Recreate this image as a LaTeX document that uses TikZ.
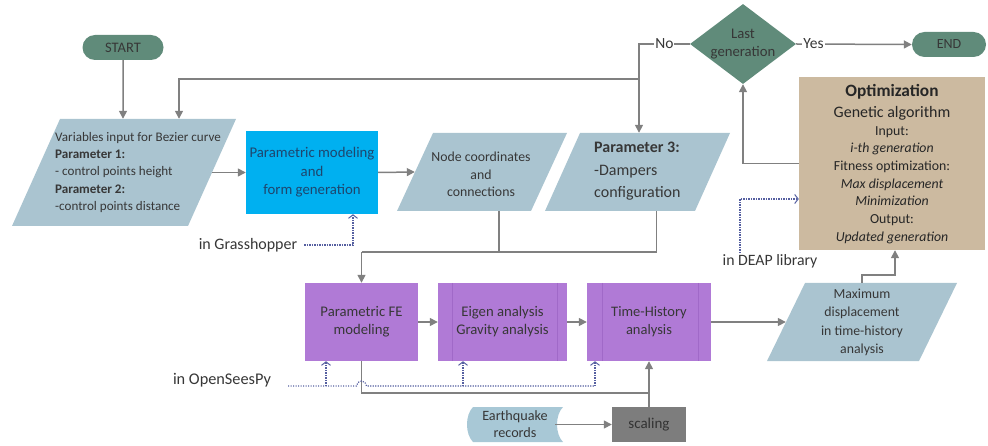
\documentclass[tikz,border=0pt]{standalone}
\usepackage{fontspec}
\setmainfont{Carlito}
\usetikzlibrary{arrows.meta,shapes.geometric,shapes.misc}
\definecolor{lgray}{RGB}{128,128,128}
\definecolor{teal}{RGB}{96,139,122}
\definecolor{parab}{RGB}{170,196,208}
\definecolor{cyanbox}{RGB}{0,176,240}
\definecolor{purp}{RGB}{176,122,214}
\definecolor{purpline}{RGB}{160,105,200}
\definecolor{tan}{RGB}{204,186,160}
\definecolor{scg}{RGB}{125,125,125}
\definecolor{dotc}{RGB}{85,95,160}
\definecolor{tcol}{RGB}{55,55,55}
\definecolor{bluetxt}{RGB}{30,70,110}
\definecolor{eqc}{RGB}{168,200,214}
\tikzset{
  flow/.style={draw=lgray, line width=1.5pt, -{Triangle[length=8pt,width=8pt]}},
  plain/.style={draw=lgray, line width=1.5pt},
  dotline/.style={draw=dotc, line width=1.2pt, dash pattern=on 1.2pt off 1.3pt},
  dotarrow/.style={dotline, -{Straight Barb[length=3.5pt,width=9pt,line width=1pt]}},
  para/.style={inner sep=0pt, path picture={\fill[parab] ([xshift=#1]path picture bounding box.north west) -- (path picture bounding box.north east) -- ([xshift=-#1]path picture bounding box.south east) -- (path picture bounding box.south west) -- cycle;}},
  term/.style={rounded rectangle, fill=teal, inner sep=0pt, text=tcol, font=\fontsize{14.5}{17}\selectfont},
  box/.style={rectangle, inner sep=0pt, align=center},
  lab/.style={fill=white, inner sep=1pt, text=tcol, font=\fontsize{15.5}{18}\selectfont},
  note/.style={text=tcol, inner sep=1pt, font=\fontsize{16}{18}\selectfont},
}
\begin{document}
\begin{tikzpicture}[x=1pt,y=-1pt]
\useasboundingbox (0,0) rectangle (988,446);
% terminals
\node[term, minimum width=81pt, minimum height=25pt] (start) at (123,47.5) {START};
\node[term, minimum width=74pt, minimum height=25pt, font=\fontsize{14}{16}\selectfont] (end) at (949,44.5) {END};
% decision
\node[diamond, fill=teal, minimum width=106pt, minimum height=80pt, inner sep=0pt] (dec) at (743,44) {};
\node[align=center, text=tcol, inner sep=0pt, font=\fontsize{14.7}{18}\selectfont] (dect) at (743,44) {Last\\generation};
% input parallelogram
\node[para=48pt, minimum width=224pt, minimum height=107pt] (var) at (124,172.5) {};
\node[anchor=west, align=left, inner sep=0pt, text=tcol, font=\fontsize{13.1}{17.3}\selectfont] (vart) at (55,172.5)
  {Variables input for Bezier curve\\\textbf{Parameter 1:}\\- control points height\\\textbf{Parameter 2:}\\-control points distance};
% parametric modeling
\node[box, fill=cyanbox, minimum width=132pt, minimum height=83pt, text=bluetxt, font=\fontsize{14.8}{18.5}\selectfont] (pm) at (312,172.5)
  {Parametric modeling\\and\\form generation};
% node coordinates
\node[para=36pt, minimum width=170pt, minimum height=78pt] (nc) at (482,172) {};
\node[align=center, inner sep=0pt, text=tcol, font=\fontsize{13.8}{17.5}\selectfont] (nct) at (481,174.5) {Node coordinates\\and\\connections};
% parameter 3
\node[para=35pt, minimum width=185pt, minimum height=78pt] (p3) at (637.5,172) {};
\node[anchor=west, align=left, inner sep=0pt, text=tcol, font=\fontsize{16}{22.5}\selectfont] (p3t) at (594,171.5) {\textbf{Parameter 3:}\\-Dampers\\configuration};
% optimization
\node[box, fill=tan, minimum width=186pt, minimum height=173pt] (opt) at (892,163.5) {};
\node[inner sep=0pt, text=black!85, font=\fontsize{17.3}{19}\selectfont\bfseries] (optA) at (892,92) {Optimization};
\node[inner sep=0pt, text=black!85, font=\fontsize{16}{18}\selectfont] (optB) at (892,113) {Genetic algorithm};
\node[align=center, inner sep=0pt, text=black!85, font=\fontsize{13.8}{17.67}\selectfont] (optC) at (892,185)
  {Input:\\\textit{i-th generation}\\Fitness optimization:\\\textit{Max displacement}\\\textit{Minimization}\\Output:\\\textit{Updated generation}};
% FE boxes
\node[box, fill=purp, minimum width=113pt, minimum height=78pt, text=tcol, font=\fontsize{14.7}{18}\selectfont] (fe) at (361.5,322) {Parametric FE\\modeling};
\node[box, fill=purp, minimum width=129pt, minimum height=78pt, text=tcol, font=\fontsize{14.7}{18}\selectfont] (eig) at (502.5,322) {Eigen analysis\\Gravity analysis};
\node[box, fill=purp, minimum width=124pt, minimum height=78pt, text=tcol, font=\fontsize{14.5}{18}\selectfont] (th) at (649,322) {Time-History\\analysis};
\draw[purpline, line width=0.6pt] ([xshift=14pt]eig.north west) -- ([xshift=14pt]eig.south west)
  ([xshift=-10pt]eig.north east) -- ([xshift=-10pt]eig.south east)
  ([xshift=15pt]th.north west) -- ([xshift=15pt]th.south west)
  ([xshift=-13pt]th.north east) -- ([xshift=-13pt]th.south east);
% max displacement
\node[para=38pt, minimum width=190pt, minimum height=78pt] (md) at (862,322) {};
\node[align=center, inner sep=0pt, text=tcol, font=\fontsize{13.8}{18.3}\selectfont] (mdt) at (862,322.5) {Maximum\\displacement\\in time-history\\analysis};
% earthquake records (stored data)
\fill[eqc] (473,407) -- (563,407) .. controls (555,415) and (555,434) .. (563,442) -- (473,442) .. controls (465,434) and (465,415) .. (473,407) -- cycle;
\node[align=center, inner sep=0pt, minimum width=90pt, minimum height=35pt, text=tcol, font=\fontsize{14.2}{17}\selectfont] (eq) at (515,424.5) {Earthquake\\records};
% scaling
\node[box, fill=scg, minimum width=74pt, minimum height=35pt, text=black!80, font=\fontsize{15}{17}\selectfont] (sc) at (649,424.5) {scaling};
% notes
\node[note] (gh) at (248,245) {in Grasshopper};
\node[note, font=\fontsize{15.8}{18}\selectfont] (deap) at (770,261) {in DEAP library};
\node[note, font=\fontsize{16.3}{18}\selectfont] (os) at (222,380) {in OpenSeesPy};
% connectors
\coordinate (jn) at (639,44);
\coordinate (jb) at (639,79);
\coordinate (fb) at (179,79);
\draw[flow] (start) -- (start |- var.north);
\draw[plain] (dec.west) -- node[lab]{No} (jn) -- (jb);
\draw[flow] (jb) -- (jb |- p3.north);
\draw[flow] (jb) -- (fb) -- (fb |- var.north);
\draw[flow] (dec.east) -- node[lab, pos=0.15]{Yes} (end.west);
\draw[flow] (opt.west) -- (dec.south |- opt.west) -- (dec.south);
\draw[flow] ([xshift=-24pt]var.east) -- (pm.west);
\draw[flow] (pm.east) -- ([xshift=18pt]nc.west);
\coordinate (bus) at (361.5,252);
\draw[plain] ([xshift=17pt]nc.south) -- ([xshift=17pt]nc.south |- bus);
\draw[plain] ([xshift=19pt]p3.south) -- ([xshift=19pt]p3.south |- bus) -- (bus);
\draw[flow] (bus) -- (fe.north);
\draw[flow] (fe) -- (eig);
\draw[flow] (eig) -- (th);
\draw[flow] (th.east) -- ([xshift=19pt]md.west);
\draw[flow] (md.north) -- ++(0,-8) -| ([xshift=3pt]opt.south);
\coordinate (lowbus) at (361.5,393);
\draw[plain] (fe.south) -- (lowbus) -- (sc.north |- lowbus);
\draw[flow] (sc.north) -- (th.south);
\draw[flow] ([xshift=-5pt]eq.east) -- (sc.west);
% dotted
\draw[dotarrow] ([xshift=6pt]gh.east) -| ([xshift=41pt]pm.south);
\draw[dotarrow] ([xshift=-30pt]deap.north) |- (opt.west |- 0,199);
\coordinate (osr) at ([xshift=-54pt]th.south |- 0,386);
\draw[dotline] (288,386) -- (356.5,386) arc (180:360:5) -- (osr);
\draw[dotarrow] (osr) -- ([xshift=-54pt]th.south);
\draw[dotarrow] ([xshift=-35.5pt]fe.south |- osr) -- ([xshift=-35.5pt]fe.south);
\draw[dotarrow] ([xshift=-39.5pt]eig.south |- osr) -- ([xshift=-39.5pt]eig.south);
\end{tikzpicture}
\end{document}
